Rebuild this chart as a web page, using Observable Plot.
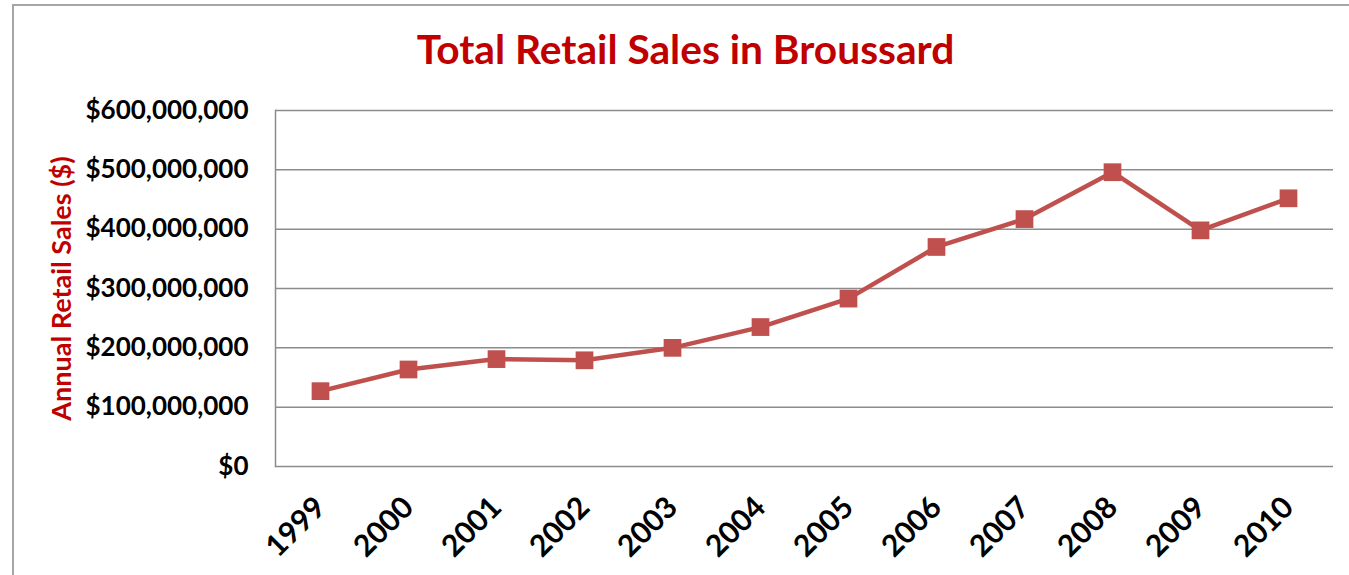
<!DOCTYPE html>
<html>
<head>
<meta charset="utf-8">
<script src="https://cdn.jsdelivr.net/npm/d3@7"></script>
<script src="https://cdn.jsdelivr.net/npm/@observablehq/plot@0.6"></script>
<style>
  html, body { margin: 0; padding: 0; background: #fff; }
  #wrap { position: relative; width: 1349px; height: 575px; overflow: hidden; }
  #border { position: absolute; left: 12px; top: 4px; width: 1400px; height: 700px; border: 2px solid #a6a6a6; box-sizing: border-box; pointer-events: none; }
  #chart { position: absolute; left: 0; top: 0; }
</style>
</head>
<body>
<div id="wrap"><div id="border"></div><div id="chart"></div></div>
<script>
const years = ["1999","2000","2001","2002","2003","2004","2005","2006","2007","2008","2009","2010"];
const sales = [127e6, 163.5e6, 181e6, 179e6, 200e6, 235e6, 283e6, 370e6, 417e6, 496e6, 398e6, 452e6];
const yTicks = [0, 1e8, 2e8, 3e8, 4e8, 5e8, 6e8];
const titleText = "Total Retail Sales in Broussard";
const yLabel = "Annual Retail Sales ($)";

const data = years.map((y, i) => ({year: y, sales: sales[i]}));
const fmt = d => "$" + d3.format(",")(d);

const chart = Plot.plot({
  width: 1349,
  height: 575,
  marginLeft: 275,
  marginRight: 16,
  marginTop: 110,
  marginBottom: 109,
  style: {fontFamily: "Lato, 'Open Sans', sans-serif", background: "transparent", overflow: "visible"},
  x: {type: "point", domain: years, padding: 0.5},
  y: {domain: [0, 6e8]},
  marks: [
    Plot.gridY(yTicks, {stroke: "#8c8c8c", strokeOpacity: 1, strokeWidth: 1.5}),
    Plot.frame({anchor: "left", stroke: "#8c8c8c", strokeWidth: 1.5}),
    Plot.axisY(yTicks, {tickSize: 0, tickPadding: 27, tickFormat: fmt, fontSize: 26, fontWeight: "bold", fill: "#000", label: null}),
    Plot.axisX({tickSize: 0, tickRotate: -45, fontSize: 30, fontWeight: "bold", fill: "#000", label: null, tickPadding: 12, dx: 0, dy: 24}),
    Plot.text([yLabel], {frameAnchor: "left", textAnchor: "middle", rotate: -90, dx: -213, fontSize: 27, fontWeight: "bold", fill: "#C00000"}),
    Plot.text([titleText], {frameAnchor: "top", dx: -119, dy: -75, fontSize: 40.7, fontWeight: "bold", fill: "#C00000"}),
    Plot.line(data, {x: "year", y: "sales", stroke: "#C0504D", strokeWidth: 4.5}),
    Plot.dot(data, {x: "year", y: "sales", symbol: "square", r: 10, fill: "#C0504D", stroke: "none"})
  ]
});
document.getElementById("chart").appendChild(chart);
</script>
</body>
</html>
